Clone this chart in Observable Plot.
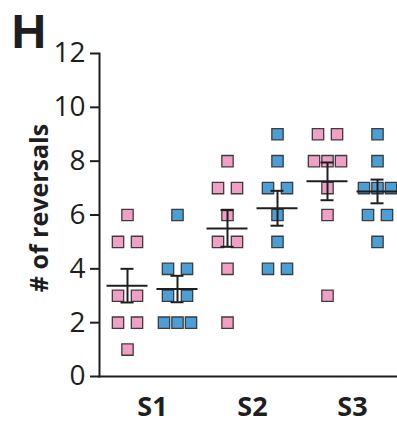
<!DOCTYPE html>
<html>
<head>
<meta charset="utf-8">
<script src="https://cdn.jsdelivr.net/npm/d3@7"></script>
<script src="https://cdn.jsdelivr.net/npm/@observablehq/plot@0.6"></script>
<style>
  html, body { margin: 0; padding: 0; background: #fff; }
  #chart { width: 397px; height: 424px; overflow: hidden; }
</style>
</head>
<body>
<div id="chart"></div>
<script>
// ---- data ----
const sessions = ["S1", "S2", "S3"];
const groups = ["pink", "blue"];
const s1Pink = [6, 5, 5, 3, 3, 2, 2, 1];
const s1Blue = [6, 4, 4, 3, 3, 2, 2, 2];
const s2Pink = [8, 7, 7, 6, 5, 5, 4, 2];
const s2Blue = [9, 8, 7, 7, 6, 5, 4, 4];
const s3Pink = [9, 9, 8, 8, 8, 7, 6, 3];
const s3Blue = [9, 8, 7, 7, 7, 6, 6, 5];
const yTicks = [0, 2, 4, 6, 8, 10, 12];
const yLabel = "# of reversals";
const panelLetter = "H";

const colors = { pink: "#f29fc6", blue: "#4a9fd6" };
const series = [
  { session: 1, group: "pink", values: s1Pink },
  { session: 1, group: "blue", values: s1Blue },
  { session: 2, group: "pink", values: s2Pink },
  { session: 2, group: "blue", values: s2Blue },
  { session: 3, group: "pink", values: s3Pink },
  { session: 3, group: "blue", values: s3Blue }
];

// dot-plot layout: points sharing a value are spread side by side
const points = [];
const stats = [];
for (const s of series) {
  const center = s.session + (s.group === "pink" ? -0.25 : 0.25);
  const byVal = d3.group(s.values, v => v);
  for (const [v, arr] of byVal) {
    const k = arr.length;
    const sp = k >= 3 ? 0.135 : 0.19;
    arr.forEach((_, i) => points.push({ x: center + (i - (k - 1) / 2) * sp, y: v, group: s.group }));
  }
  const m = d3.mean(s.values);
  const sem = d3.deviation(s.values) / Math.sqrt(s.values.length);
  stats.push({ x: center, mean: m, lo: m - sem, hi: m + sem });
}

const font = "'Open Sans', 'Noto Sans', sans-serif";
const ink = "#1e1e1e";

const plot = Plot.plot({
  width: 397,
  height: 424,
  marginLeft: 99,
  marginRight: 0,
  marginTop: 53,
  marginBottom: 48,
  style: { fontFamily: font, color: ink, background: "#fff", overflow: "visible" },
  x: { type: "linear", domain: [0.47, 3.45] },
  y: { domain: [0, 12] },
  marks: [
    Plot.frame({ anchor: "left", stroke: ink, strokeWidth: 2 }),
    Plot.frame({ anchor: "bottom", stroke: ink, strokeWidth: 2 }),
    Plot.axisY({ ticks: yTicks, tickSize: 9, tickPadding: 5, fontSize: 28, label: null, strokeWidth: 2, stroke: ink }),
    Plot.axisX({ ticks: [1, 2, 3], tickFormat: d => sessions[d - 1], tickSize: 0, tickPadding: 20, fontSize: 27, fontWeight: "bold", label: null }),
    Plot.text([yLabel], { frameAnchor: "left", rotate: -90, dx: -60, dy: -7, fontSize: 25, fontWeight: "bold", fill: ink, textAnchor: "middle", lineAnchor: "middle" }),
    Plot.text([panelLetter], { frameAnchor: "top-left", textAnchor: "start", lineAnchor: "bottom", dx: -88, dy: -6, fontSize: 48, fontWeight: "bold", fontFamily: "'Liberation Sans', Arial, sans-serif", fill: ink }),
    Plot.dot(points, { x: "x", y: "y", symbol: "square", r: 6.4, fill: d => colors[d.group], stroke: "#3c3c3c", strokeWidth: 1.3 }),
    Plot.ruleY(stats, { y: "mean", x1: d => d.x - 0.205, x2: d => d.x + 0.205, stroke: ink, strokeWidth: 2 }),
    Plot.ruleX(stats, { x: "x", y1: "lo", y2: "hi", stroke: ink, strokeWidth: 2 }),
    Plot.ruleY(stats, { y: "lo", x1: d => d.x - 0.065, x2: d => d.x + 0.065, stroke: ink, strokeWidth: 2 }),
    Plot.ruleY(stats, { y: "hi", x1: d => d.x - 0.065, x2: d => d.x + 0.065, stroke: ink, strokeWidth: 2 })
  ]
});
document.getElementById("chart").append(plot);
</script>
</body>
</html>
